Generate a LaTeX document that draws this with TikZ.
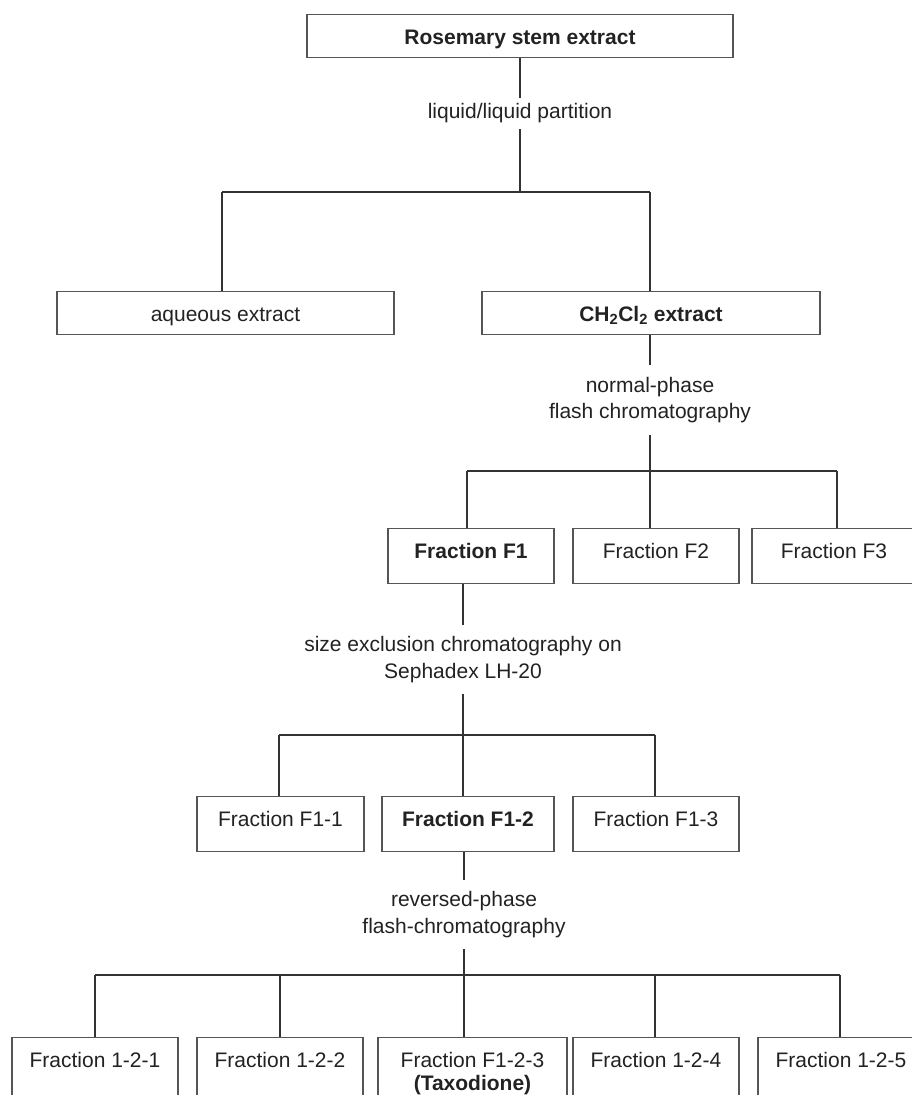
\documentclass[tikz,border=0pt]{standalone}
\usepackage{fontspec}
\setmainfont{Liberation Sans}
\definecolor{ln}{HTML}{333333}
\definecolor{bx}{HTML}{555555}
\definecolor{tx}{HTML}{222222}
\begin{document}
\begin{tikzpicture}[x=1pt,y=-1pt,
  every node/.style={font=\fontsize{21pt}{26.5pt}\selectfont, text=tx},
  box/.style={draw=bx, line width=1.2pt, rectangle, inner xsep=0pt, inner ysep=0pt, anchor=north, text height=29.5pt},
  lab/.style={align=center, inner sep=0pt},
  con/.style={draw=ln, line width=1.3pt}]
\useasboundingbox (0,0) rectangle (912,1095);
\clip (0,0) rectangle (912,1095);
% boxes and labels
\node[box, minimum width=426pt, text depth=13.5pt] (top) at (520,14) {\textbf{Rosemary stem extract}};
\node[lab, minimum height=31pt] (l1) at (520,113.5) {liquid/liquid partition};
\node[box, minimum width=337pt, text depth=13.5pt] (aq) at (225.5,291) {aqueous extract};
\node[box, minimum width=338pt, text depth=13.5pt] (ch) at (651,291) {\textbf{CH\textsubscript{2}Cl\textsubscript{2} extract}};
\node[lab, minimum height=70pt] (l2) at (650,400) {normal-phase\\flash chromatography};
\node[box, minimum width=166pt, text depth=25.5pt] (f1) at (471,528) {\textbf{Fraction F1}};
\node[box, minimum width=166pt, text depth=25.5pt] (f2) at (656,528) {Fraction F2};
\node[box, minimum width=164pt, text depth=25.5pt] (f3) at (834,528) {Fraction F3};
\node[lab, minimum height=69pt] (l3) at (463,659.5) {size exclusion chromatography on\\Sephadex LH-20};
\node[box, minimum width=167pt, text depth=25.5pt] (f11) at (280.5,796) {Fraction F1-1};
\node[box, minimum width=172pt, text depth=25.5pt] (f12) at (468,796) {\textbf{Fraction F1-2}};
\node[box, minimum width=166pt, text depth=25.5pt] (f13) at (656,796) {Fraction F1-3};
\node[lab, minimum height=69pt] (l4) at (464,914.5) {reversed-phase\\flash-chromatography};
\node[box, minimum width=166pt, text depth=80pt] (b1) at (95,1037) {Fraction 1-2-1};
\node[box, minimum width=166pt, text depth=80pt] (b2) at (280,1037) {Fraction 1-2-2};
\node[box, minimum width=189pt, text depth=80pt] (b3) at (472.5,1037) {\begin{tabular}[t]{@{}c@{}}Fraction F1-2-3\\[-3.5pt]\textbf{(Taxodione)}\end{tabular}};
\node[box, minimum width=166pt, text depth=80pt] (b4) at (656,1037) {Fraction 1-2-4};
\node[box, minimum width=166pt, text depth=80pt] (b5) at (841,1037) {Fraction 1-2-5};
% junctions
\coordinate (j1) at (520,192);
\coordinate (j1a) at (222,192);
\coordinate (j1b) at (650,192);
\coordinate (j2) at (650,471);
\coordinate (j2a) at (467,471);
\coordinate (j2c) at (837,471);
\coordinate (j3) at (463,735);
\coordinate (j3a) at (279,735);
\coordinate (j3c) at (655,735);
\coordinate (j4) at (464,975);
\coordinate (j4a) at (95,975);
\coordinate (j4b) at (280,975);
\coordinate (j4d) at (655,975);
\coordinate (j4e) at (840,975);
% connectors level 1
\draw[con] (top.south) -- (l1.north);
\draw[con] (l1.south) -- (j1);
\draw[con] (j1a) -- (j1b);
\draw[con] (j1a) -- (j1a |- aq.north);
\draw[con] (j1b) -- (j1b |- ch.north);
% level 2
\draw[con] (l2.north |- ch.south) -- (l2.north);
\draw[con] (l2.south) -- (j2);
\draw[con] (j2a) -- (j2c);
\draw[con] (j2a) -- (j2a |- f1.north);
\draw[con] (j2) -- (j2 |- f2.north);
\draw[con] (j2c) -- (j2c |- f3.north);
% level 3
\draw[con] (l3.north |- f1.south) -- (l3.north);
\draw[con] (l3.south) -- (j3);
\draw[con] (j3a) -- (j3c);
\draw[con] (j3a) -- (j3a |- f11.north);
\draw[con] (j3) -- (j3 |- f12.north);
\draw[con] (j3c) -- (j3c |- f13.north);
% level 4
\draw[con] (l4.north |- f12.south) -- (l4.north);
\draw[con] (l4.south) -- (j4);
\draw[con] (j4a) -- (j4e);
\draw[con] (j4a) -- (j4a |- b1.north);
\draw[con] (j4b) -- (j4b |- b2.north);
\draw[con] (j4) -- (j4 |- b3.north);
\draw[con] (j4d) -- (j4d |- b4.north);
\draw[con] (j4e) -- (j4e |- b5.north);
\end{tikzpicture}
\end{document}
